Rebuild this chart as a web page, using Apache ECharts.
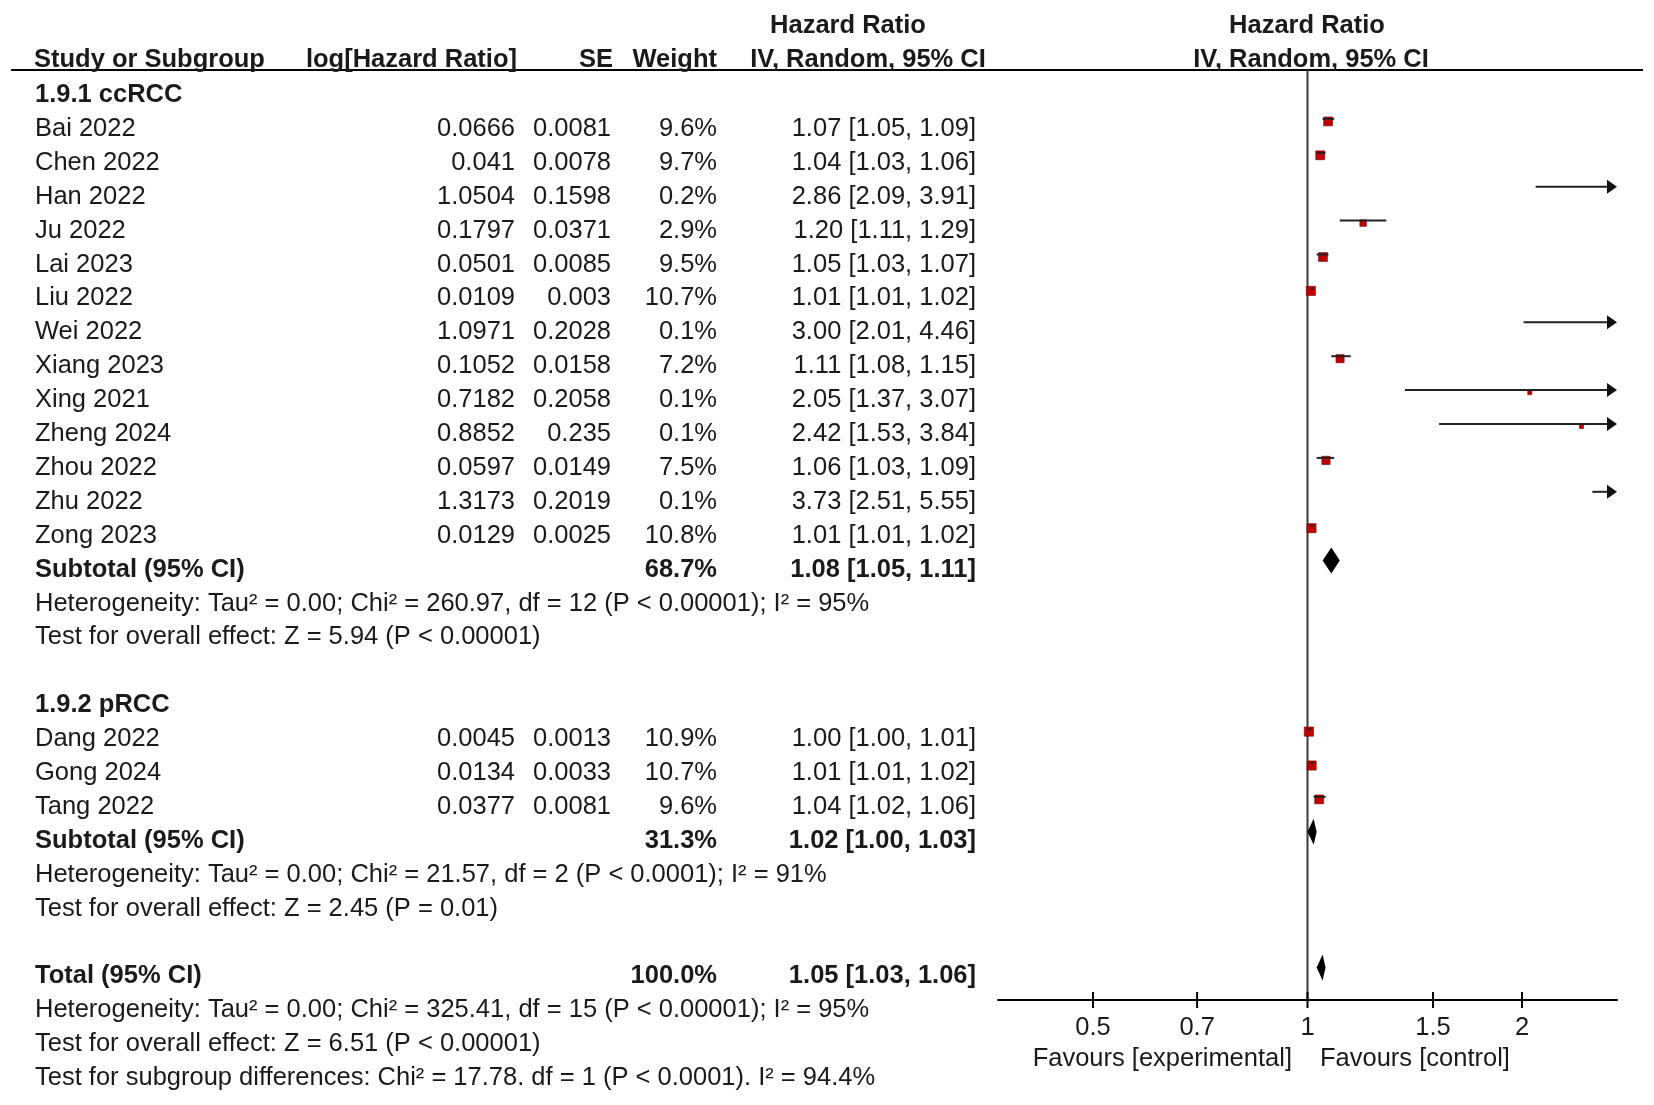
<!DOCTYPE html>
<html>
<head>
<meta charset="utf-8">
<script src="https://cdn.jsdelivr.net/npm/echarts@6/dist/echarts.min.js"></script>
<style>
html, body { margin: 0; padding: 0; background: #fff; }
#forest { width: 1654px; height: 1105px; }
</style>
</head>
<body>
<div id="forest"></div>
<script>
// 1.9.1 ccRCC
var ccNames  = ['Bai 2022', 'Chen 2022', 'Han 2022', 'Ju 2022', 'Lai 2023', 'Liu 2022', 'Wei 2022',
                'Xiang 2023', 'Xing 2021', 'Zheng 2024', 'Zhou 2022', 'Zhu 2022', 'Zong 2023'];
var ccLogHR  = [0.0666, 0.041, 1.0504, 0.1797, 0.0501, 0.0109, 1.0971, 0.1052, 0.7182, 0.8852, 0.0597, 1.3173, 0.0129];
var ccSE     = [0.0081, 0.0078, 0.1598, 0.0371, 0.0085, 0.003, 0.2028, 0.0158, 0.2058, 0.235, 0.0149, 0.2019, 0.0025];
var ccWeight = [9.6, 9.7, 0.2, 2.9, 9.5, 10.7, 0.1, 7.2, 0.1, 0.1, 7.5, 0.1, 10.8];
var ccHR     = [1.07, 1.04, 2.86, 1.20, 1.05, 1.01, 3.00, 1.11, 2.05, 2.42, 1.06, 3.73, 1.01];
var ccLow    = [1.05, 1.03, 2.09, 1.11, 1.03, 1.01, 2.01, 1.08, 1.37, 1.53, 1.03, 2.51, 1.01];
var ccHigh   = [1.09, 1.06, 3.91, 1.29, 1.07, 1.02, 4.46, 1.15, 3.07, 3.84, 1.09, 5.55, 1.02];

// 1.9.2 pRCC
var pNames  = ['Dang 2022', 'Gong 2024', 'Tang 2022'];
var pLogHR  = [0.0045, 0.0134, 0.0377];
var pSE     = [0.0013, 0.0033, 0.0081];
var pWeight = [10.9, 10.7, 9.6];
var pHR     = [1.00, 1.01, 1.04];
var pLow    = [1.00, 1.01, 1.02];
var pHigh   = [1.01, 1.02, 1.06];

// pooled: ccRCC subtotal, pRCC subtotal, total
var poolLabels = ['Subtotal (95% CI)', 'Subtotal (95% CI)', 'Total (95% CI)'];
var poolWeight = [68.7, 31.3, 100.0];
var poolHR     = [1.08, 1.02, 1.05];
var poolLow    = [1.05, 1.00, 1.03];
var poolHigh   = [1.11, 1.03, 1.06];

var ccNotes = ['Heterogeneity: Tau\u00b2 = 0.00; Chi\u00b2 = 260.97, df = 12 (P < 0.00001); I\u00b2 = 95%',
               'Test for overall effect: Z = 5.94 (P < 0.00001)'];
var pNotes = ['Heterogeneity: Tau\u00b2 = 0.00; Chi\u00b2 = 21.57, df = 2 (P < 0.0001); I\u00b2 = 91%',
              'Test for overall effect: Z = 2.45 (P = 0.01)'];
var totalNotes = ['Heterogeneity: Tau\u00b2 = 0.00; Chi\u00b2 = 325.41, df = 15 (P < 0.00001); I\u00b2 = 95%',
                  'Test for overall effect: Z = 6.51 (P < 0.00001)',
                  'Test for subgroup differences: Chi\u00b2 = 17.78. df = 1 (P < 0.0001). I\u00b2 = 94.4%'];

var tickValues = [0.5, 0.7, 1, 1.5, 2];

// ---- layout ----
var W = 1654, H = 1105;
var ROW_H = 33.9, ROW0 = 95;          // text row pitch, centre of first row
var PLOT_L = 998, PLOT_R = 1617, PLOT_T = 70, PLOT_B = 1000;
var MARK_SHIFT = 10;                  // plot rows sit a little above the text rows
var COL = { name: 35, log: 515, se: 611, w: 717, ci: 976 };
var INK = '#1a1a1a';
var FAMILY = '"Liberation Sans", Arial, sans-serif';
var FONT = '25.5px ' + FAMILY;

function ciText(h, l, u) {
    return h.toFixed(2) + ' [' + l.toFixed(2) + ', ' + u.toFixed(2) + ']';
}

var tableRows = [];
var studyData = [];
var poolData = [];
var slot = 0;

function addRow(cells) { tableRows.push({ slot: slot, cells: cells }); slot++; }

function addGroup(title, names, logs, ses, ws, hrs, lows, highs) {
    addRow([{ t: title, x: COL.name, a: 'left', b: true }]);
    for (var i = 0; i < names.length; i++) {
        studyData.push([Math.log(lows[i]), Math.log(highs[i]), logs[i], slot, ws[i]]);
        addRow([
            { t: names[i], x: COL.name, a: 'left' },
            { t: String(logs[i]), x: COL.log, a: 'right' },
            { t: String(ses[i]), x: COL.se, a: 'right' },
            { t: ws[i].toFixed(1) + '%', x: COL.w, a: 'right' },
            { t: ciText(hrs[i], lows[i], highs[i]), x: COL.ci, a: 'right' }
        ]);
    }
}

function addPool(k) {
    poolData.push([Math.log(poolLow[k]), Math.log(poolHigh[k]), Math.log(poolHR[k]), slot]);
    addRow([
        { t: poolLabels[k], x: COL.name, a: 'left', b: true },
        { t: poolWeight[k].toFixed(1) + '%', x: COL.w, a: 'right', b: true },
        { t: ciText(poolHR[k], poolLow[k], poolHigh[k]), x: COL.ci, a: 'right', b: true }
    ]);
}

function addNotes(list) {
    list.forEach(function (s) { addRow([{ t: s, x: COL.name, a: 'left' }]); });
}

addGroup('1.9.1 ccRCC', ccNames, ccLogHR, ccSE, ccWeight, ccHR, ccLow, ccHigh);
addPool(0);
addNotes(ccNotes);
slot++;
addGroup('1.9.2 pRCC', pNames, pLogHR, pSE, pWeight, pHR, pLow, pHigh);
addPool(1);
addNotes(pNotes);
slot++;
addPool(2);
addNotes(totalNotes);

function txt(s, x, y, align, bold) {
    return {
        type: 'text', silent: true,
        style: { text: s, x: x, y: y, textAlign: align, textVerticalAlign: 'middle',
                 font: (bold ? 'bold ' : '') + FONT, fill: INK }
    };
}

var chart = echarts.init(document.getElementById('forest'), null, { renderer: 'canvas' });

var option = {
    backgroundColor: '#ffffff',
    animation: false,
    grid: [
        { left: 0, right: 0, top: 0, bottom: 0 },
        { left: PLOT_L, width: PLOT_R - PLOT_L, top: PLOT_T, height: PLOT_B - PLOT_T }
    ],
    xAxis: [
        { gridIndex: 0, type: 'value', min: 0, max: W, show: false },
        {
            gridIndex: 1, type: 'value', min: -1, max: 1,
            axisLine: { show: true, onZero: false, lineStyle: { color: '#000', width: 2 } },
            axisTick: { show: false },
            splitLine: { show: false },
            axisLabel: {
                customValues: tickValues.map(Math.log),
                formatter: function (v) {
                    for (var i = 0; i < tickValues.length; i++) {
                        if (Math.abs(Math.log(tickValues[i]) - v) < 1e-6) return String(tickValues[i]);
                    }
                    return '';
                },
                fontSize: 25.5, fontFamily: FAMILY, color: INK, margin: 15
            }
        }
    ],
    yAxis: [
        { gridIndex: 0, type: 'value', inverse: true, min: -ROW0 / ROW_H, max: (H - ROW0) / ROW_H, show: false },
        {
            gridIndex: 1, type: 'value', inverse: true, show: false,
            min: (PLOT_T - (ROW0 - MARK_SHIFT)) / ROW_H,
            max: (PLOT_B - (ROW0 - MARK_SHIFT)) / ROW_H
        }
    ],
    graphic: [
        { type: 'line', silent: true, shape: { x1: 11, y1: PLOT_T, x2: 1643, y2: PLOT_T },
          style: { stroke: '#000', lineWidth: 2 } },
        txt('Hazard Ratio', 848, 26, 'center', true),
        txt('Hazard Ratio', 1307, 26, 'center', true),
        txt('Study or Subgroup', 34, 60, 'left', true),
        txt('log[Hazard Ratio]', 517, 60, 'right', true),
        txt('SE', 613, 60, 'right', true),
        txt('Weight', 717, 60, 'right', true),
        txt('IV, Random, 95% CI', 868, 60, 'center', true),
        txt('IV, Random, 95% CI', 1311, 60, 'center', true),
        txt('Favours [experimental]', 1292, 1059, 'right', false),
        txt('Favours [control]', 1320, 1059, 'left', false)
    ],
    series: [
        {
            // table text
            type: 'custom', xAxisIndex: 0, yAxisIndex: 0, silent: true,
            data: tableRows.map(function (r) { return [0, r.slot]; }),
            renderItem: function (params, api) {
                var row = tableRows[params.dataIndex];
                return {
                    type: 'group',
                    children: row.cells.map(function (c) {
                        var p = api.coord([c.x, row.slot]);
                        return txt(c.t, p[0], p[1], c.a, c.b);
                    })
                };
            }
        },
        {
            // line of no effect
            type: 'custom', xAxisIndex: 1, yAxisIndex: 1, silent: true, clip: false,
            data: [[Math.log(1)]],
            renderItem: function (params, api) {
                var cs = params.coordSys;
                var x = api.coord([api.value(0), 0])[0];
                return { type: 'line', shape: { x1: x, y1: cs.y, x2: x, y2: cs.y + cs.height },
                         style: { stroke: '#3a3a3a', lineWidth: 2 } };
            }
        },
        {
            // axis ticks
            type: 'custom', xAxisIndex: 1, yAxisIndex: 1, silent: true, clip: false,
            data: tickValues.map(function (v) { return [Math.log(v)]; }),
            renderItem: function (params, api) {
                var cs = params.coordSys;
                var x = api.coord([api.value(0), 0])[0];
                var y = cs.y + cs.height;
                return { type: 'line', shape: { x1: x, y1: y - 8, x2: x, y2: y + 8 },
                         style: { stroke: '#000', lineWidth: 2 } };
            }
        },
        {
            // studies: CI line, arrow, weighted square
            type: 'custom', xAxisIndex: 1, yAxisIndex: 1, silent: true, clip: false,
            data: studyData,
            renderItem: function (params, api) {
                var lo = api.value(0), hi = api.value(1), est = api.value(2), row = api.value(3), w = api.value(4);
                var a = api.coord([Math.max(lo, -1), row]);
                var b = api.coord([Math.min(hi, 1), row]);
                var y = a[1];
                var kids = [];
                if (est >= -1 && est <= 1) {
                    var c = api.coord([est, row]);
                    var s = 3.6 + 1.7 * Math.sqrt(w);
                    kids.push({ type: 'rect', shape: { x: c[0] - s / 2, y: y + 2.5 - s / 2, width: s, height: s },
                                style: { fill: '#c00000', stroke: '#7a0000', lineWidth: 0.6 } });
                }
                var xEnd = hi > 1 ? b[0] - 9 : b[0];
                kids.push({ type: 'line', shape: { x1: a[0], y1: y, x2: xEnd, y2: y },
                            style: { stroke: '#222', lineWidth: 2 } });
                if (hi > 1) {
                    kids.push({ type: 'polygon', shape: { points: [[b[0], y], [b[0] - 10, y - 7], [b[0] - 10, y + 7]] },
                                style: { fill: '#111' } });
                }
                return { type: 'group', children: kids };
            }
        },
        {
            // pooled diamonds
            type: 'custom', xAxisIndex: 1, yAxisIndex: 1, silent: true, clip: false,
            data: poolData,
            renderItem: function (params, api) {
                var row = api.value(3);
                var l = api.coord([api.value(0), row]);
                var u = api.coord([api.value(1), row]);
                var m = api.coord([api.value(2), row]);
                var y = l[1] + 1;
                return { type: 'polygon',
                         shape: { points: [[l[0], y], [m[0], y - 13], [u[0], y], [m[0], y + 13]] },
                         style: { fill: '#000' } };
            }
        }
    ]
};

chart.setOption(option);
</script>
</body>
</html>
